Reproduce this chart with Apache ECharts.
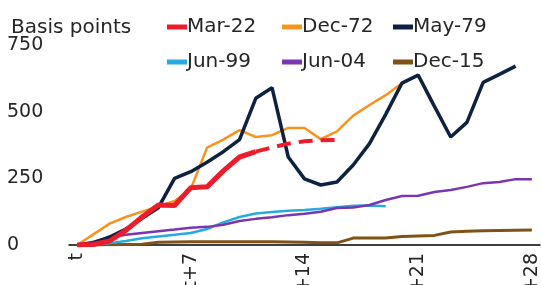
<!DOCTYPE html>
<html>
<head>
<meta charset="utf-8">
<script src="https://cdn.jsdelivr.net/npm/echarts@6/dist/echarts.min.js"></script>
<style>
  html, body { margin: 0; padding: 0; background: #fff; }
  #chart { width: 541px; height: 285px; }
</style>
</head>
<body>
<div id="chart"></div>
<script>
// 일별 누적 변화(bp), x = t + day
const dayTicks = [0, 7, 14, 21, 28];
const tickLabels = ["t", "t+7", "t+14", "t+21", "t+28"];

const mar22 = [0, 2, 15, 55, 105, 150, 148, 215, 218, 278, 330, 350];
const mar22Dashed = [350, 366, 380, 389, 393, 394]; // from day 11
const dec72 = [0, 40, 80, 105, 125, 145, 165, 210, 365, 395, 431, 405, 412, 439, 439, 397, 426, 485, 525, 562, 607];
const may79 = [0, 8, 30, 60, 100, 140, 250, 275, 310, 350, 395, 550, 590, 330, 248, 225, 236, 300, 380, 490, 607, 637, 520, 405, 460, 610, 640, 671];
const jun99 = [0, 2, 7, 15, 25, 32, 38, 45, 60, 85, 105, 118, 124, 128, 131, 136, 142, 147, 148, 145];
const jun04 = [0, 12, 28, 38, 45, 52, 58, 65, 68, 76, 90, 98, 104, 112, 117, 125, 139, 141, 150, 169, 184, 185, 199, 206, 218, 232, 236, 247, 247];
const dec15 = [0, 0, 1, 2, 3, 10, 11, 12, 12, 12, 12, 12, 12, 11, 10, 8, 8, 26, 26, 26, 32, 34, 36, 49, 52, 53, 54, 55, 56];

const C = {
  mar22: "#ec1c2b",
  dec72: "#f7941e",
  may79: "#0e2240",
  jun99: "#27aae1",
  jun04: "#7b35b0",
  dec15: "#7f5217",
  ink: "#262626",
};
const FONT = '"DejaVu Sans", sans-serif';

const pts = (arr, start = 0) => arr.map((v, i) => [start + i, v]);

function line(name, data, color, width, extra) {
  return {
    name, type: "line", data, showSymbol: false, symbol: "none",
    lineStyle: { color, width, ...(extra || {}) },
    itemStyle: { color },
    animation: false,
  };
}

// 범례: 아이콘(짧은 막대) + 텍스트, 2행 3열
const legendItems = [
  ["Mar-22", C.mar22, 167, 27], ["Dec-72", C.dec72, 282, 27], ["May-79", C.may79, 393, 27],
  ["Jun-99", C.jun99, 167, 62], ["Jun-04", C.jun04, 282, 62], ["Dec-15", C.dec15, 393, 62],
];
const legendGraphic = legendItems.flatMap(([n, color, x, y]) => [
  { type: "rect", shape: { x, y: y - 2.5, width: 20, height: 5 }, style: { fill: color }, silent: true },
  {
    type: "text", x: x + 20, y: y - 0.5, silent: true,
    style: { text: n, fill: C.ink, font: `20px ${FONT}`, verticalAlign: "middle", align: "left" },
  },
]);

const chart = echarts.init(document.getElementById("chart"), null, { renderer: "canvas" });
chart.setOption({
  animation: false,
  textStyle: { fontFamily: FONT, color: C.ink },
  title: {
    text: "Basis points", left: 6, top: 13,
    textStyle: { fontFamily: FONT, fontSize: 20, fontWeight: "normal", color: C.ink },
  },
  graphic: legendGraphic,
  grid: { left: 69, right: 1, top: 45, bottom: 40, outerBoundsMode: "none", containLabel: false },
  xAxis: {
    type: "value", min: -0.5, max: 28.5,
    axisLine: { show: true, onZero: true, lineStyle: { color: "#000", width: 1.5 } },
    axisTick: { show: false },
    splitLine: { show: false },
    axisLabel: {
      customValues: dayTicks, rotate: 90, margin: 8,
      fontFamily: FONT, fontSize: 19, color: C.ink,
      formatter: (v) => tickLabels[dayTicks.indexOf(v)] || "",
    },
  },
  yAxis: {
    type: "value", min: 0, max: 750, interval: 250,
    axisLine: { show: false }, axisTick: { show: false }, splitLine: { show: false },
    axisLabel: { align: "left", margin: 62, fontFamily: FONT, fontSize: 19, color: C.ink },
  },
  series: [
    line("Dec-15", pts(dec15), C.dec15, 3),
    line("Jun-99", pts(jun99), C.jun99, 2.5),
    line("Jun-04", pts(jun04), C.jun04, 2.5),
    line("Dec-72", pts(dec72), C.dec72, 2.5),
    line("May-79", pts(may79), C.may79, 3.5),
    line("Mar-22", pts(mar22), C.mar22, 5),
    line("Mar-22", pts(mar22Dashed, 11), C.mar22, 4, { type: [14, 8] }),
  ],
});
</script>
</body>
</html>
